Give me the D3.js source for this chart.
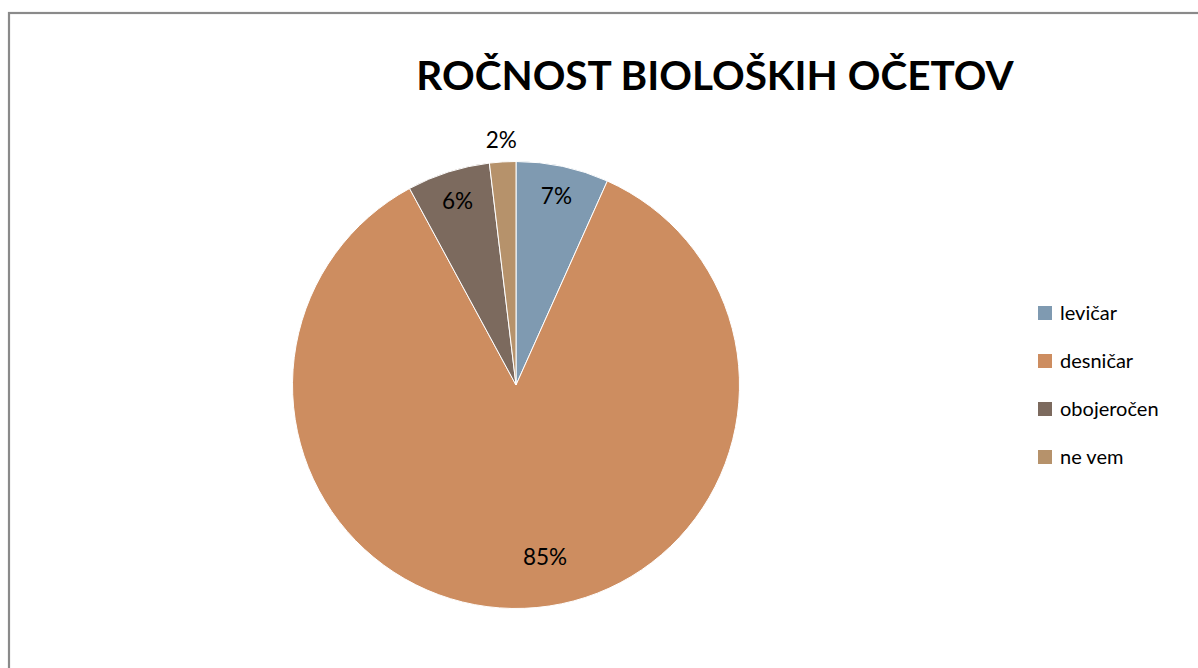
<!DOCTYPE html>
<html>
<head>
<meta charset="utf-8">
<script src="https://cdn.jsdelivr.net/npm/d3@7"></script>
<style>
html,body{margin:0;padding:0;background:#fff;}
svg{display:block;}
</style>
</head>
<body>
<svg id="chart" width="1198" height="668"></svg>
<script>
const title = "ROČNOST BIOLOŠKIH OČETOV";
const categories = ["levičar", "desničar", "obojeročen", "ne vem"];
const values = [6.7, 85.4, 6.0, 1.9];
const colors = ["#7F9AB1", "#CD8D60", "#7C6A5E", "#B6926B"];

const W = 1198, H = 668;
const svg = d3.select("#chart");
const font = "Lato, 'Open Sans', sans-serif";

// chart area border
svg.append("rect")
  .attr("x", 9).attr("y", 13)
  .attr("width", W + 10).attr("height", H + 10)
  .attr("fill", "none")
  .attr("stroke", "#8a8a8a")
  .attr("stroke-width", 2.2);

// title
svg.append("text")
  .attr("x", 715).attr("y", 90)
  .attr("text-anchor", "middle")
  .attr("font-family", font)
  .attr("font-weight", "bold")
  .attr("font-size", 40.5)
  .attr("fill", "#000")
  .text(title);

const cx = 516, cy = 385, R = 223.5;
const pie = d3.pie().sort(null).value(d => d);
const arcs = pie(values);
const arc = d3.arc().innerRadius(0).outerRadius(R);

const g = svg.append("g").attr("transform", `translate(${cx},${cy})`);
g.selectAll("path.slice")
  .data(arcs)
  .join("path")
  .attr("class", "slice")
  .attr("d", arc)
  .attr("fill", (d, i) => colors[i])
  .attr("stroke", "#fff")
  .attr("stroke-width", 1);

const fmt = v => Math.round(v) + "%";
function labelPos(d) {
  const span = d.endAngle - d.startAngle;
  const a = (d.startAngle + d.endAngle) / 2;
  let r;
  if (span < 0.2) r = R + 22;        // tiny slice: outside
  else if (span < 1) r = R * 0.865;  // small slices
  else r = R * 0.78;                 // large slice
  let ang = a;
  if (span > 3) ang = a - 0.13;
  return [Math.sin(ang) * r, -Math.cos(ang) * r];
}
g.selectAll("text.lbl")
  .data(arcs)
  .join("text")
  .attr("class", "lbl")
  .attr("x", d => labelPos(d)[0])
  .attr("y", d => labelPos(d)[1])
  .attr("dy", "0.35em")
  .attr("text-anchor", "middle")
  .attr("font-family", font)
  .attr("font-size", 22.5)
  .attr("fill", "#000")
  .text(d => fmt(d.data));

// legend
const legY = d3.scalePoint().domain(categories).range([313, 457]);
const leg = svg.append("g");
const items = leg.selectAll("g").data(categories).join("g")
  .attr("transform", d => `translate(1038,${legY(d)})`);
items.append("rect")
  .attr("x", 0).attr("y", -7)
  .attr("width", 14).attr("height", 14)
  .attr("fill", (d, i) => colors[i]);
items.append("text")
  .attr("x", 22).attr("y", 0)
  .attr("dy", "0.36em")
  .attr("font-family", font)
  .attr("font-size", 20)
  .attr("fill", "#000")
  .text(d => d);
</script>
</body>
</html>
